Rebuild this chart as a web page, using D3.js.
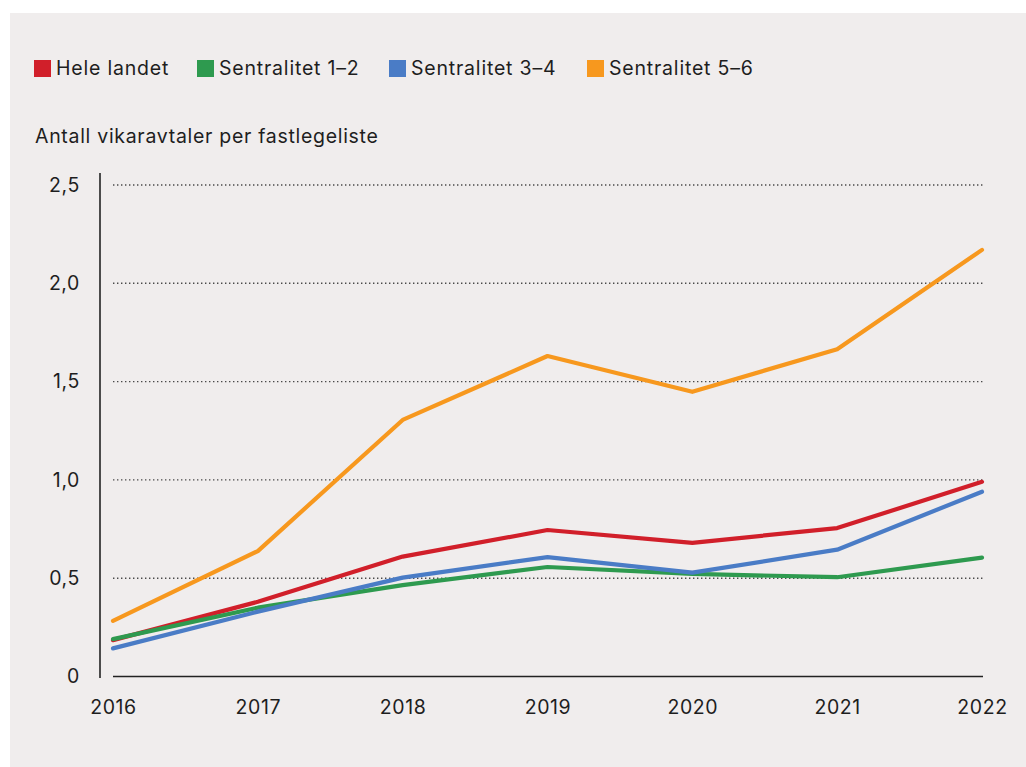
<!DOCTYPE html>
<html>
<head>
<meta charset="utf-8">
<script src="https://cdn.jsdelivr.net/npm/d3@7"></script>
<style>
  html, body { margin: 0; padding: 0; background: #ffffff; }
  svg { display: block; font-family: Inter, "Noto Sans", sans-serif; }
</style>
</head>
<body>
<div class="chart"></div>
<script>
var w = 1026,
  h = 767;

// values
var years = [2016, 2017, 2018, 2019, 2020, 2021, 2022];
var heleLandet = [0.185, 0.38, 0.61, 0.745, 0.68, 0.755, 0.99];
var sentralitet12 = [0.19, 0.35, 0.465, 0.557, 0.522, 0.505, 0.605];
var sentralitet34 = [0.143, 0.33, 0.503, 0.607, 0.528, 0.645, 0.94];
var sentralitet56 = [0.283, 0.638, 1.305, 1.63, 1.448, 1.665, 2.17];
var seriesNames = ['Hele landet', 'Sentralitet 1\u20132', 'Sentralitet 3\u20134', 'Sentralitet 5\u20136'];
var seriesColors = ['#d11f2a', '#2e9a4f', '#4a7cc6', '#f7981e'];
var yTicks = [0, 0.5, 1, 1.5, 2, 2.5];
var yTitle = 'Antall vikaravtaler per fastlegeliste';

var seriesValues = [heleLandet, sentralitet12, sentralitet34, sentralitet56];

var svg = d3.select('.chart')
  .append('svg')
  .attr('width', w)
  .attr('height', h);

// grey panel
svg.append('rect')
  .attr('x', 10)
  .attr('y', 13)
  .attr('width', w - 10)
  .attr('height', h - 13)
  .attr('fill', '#f0eded');

var x = d3.scalePoint()
  .domain(years)
  .range([113, 982]);

var y = d3.scaleLinear()
  .domain([0, 2.5])
  .range([676.5, 185]);

var fmt = function (d) {
  return d === 0 ? '0' : d3.format('.1f')(d).replace('.', ',');
};

// legend
var legendX = [34, 197, 389, 587];
var legend = svg.append('g').attr('class', 'legend');
seriesNames.forEach(function (name, i) {
  legend.append('rect')
    .attr('x', legendX[i])
    .attr('y', 60)
    .attr('width', 17)
    .attr('height', 17)
    .attr('fill', seriesColors[i]);
  legend.append('text')
    .attr('x', legendX[i] + 22)
    .attr('y', 75)
    .attr('font-size', '19.5px')
    .attr('letter-spacing', '0.8px')
    .attr('fill', '#1e1e1e')
    .text(name);
});

// axis title
svg.append('text')
  .attr('x', 35)
  .attr('y', 143)
  .attr('font-size', '19.5px')
  .attr('letter-spacing', '0.7px')
  .attr('fill', '#1e1e1e')
  .text(yTitle);

// gridlines
svg.append('g')
  .selectAll('line')
  .data(yTicks.filter(function (d) { return d > 0; }))
  .enter()
  .append('line')
  .attr('x1', 113)
  .attr('x2', 983)
  .attr('y1', function (d) { return y(d); })
  .attr('y2', function (d) { return y(d); })
  .attr('stroke', '#4a4a4a')
  .attr('stroke-width', 1.4)
  .attr('stroke-dasharray', '1.4 2.6');

// y axis
var yAxis = d3.axisLeft(y)
  .tickValues(yTicks)
  .tickFormat(fmt)
  .tickSize(0)
  .tickPadding(20);

var gy = svg.append('g')
  .attr('transform', 'translate(100,0)')
  .call(yAxis);
gy.select('.domain').remove();
gy.selectAll('text')
  .attr('font-size', '19.5px')
  .attr('letter-spacing', '0.6px')
  .attr('font-family', 'Inter, "Noto Sans", sans-serif')
  .attr('fill', '#1e1e1e');

svg.append('line')
  .attr('x1', 100)
  .attr('x2', 100)
  .attr('y1', 173)
  .attr('y2', 678)
  .attr('stroke', '#222')
  .attr('stroke-width', 1.6);

// x axis
var xAxis = d3.axisBottom(x)
  .tickSize(0)
  .tickPadding(24);

var gx = svg.append('g')
  .attr('transform', 'translate(0,' + y(0) + ')')
  .call(xAxis);
gx.select('.domain').remove();
gx.selectAll('text')
  .attr('font-size', '19.5px')
  .attr('letter-spacing', '0.6px')
  .attr('font-family', 'Inter, "Noto Sans", sans-serif')
  .attr('fill', '#1e1e1e');

svg.append('line')
  .attr('x1', 113)
  .attr('x2', 983)
  .attr('y1', y(0))
  .attr('y2', y(0))
  .attr('stroke', '#222')
  .attr('stroke-width', 1.6);

// lines
var line = d3.line()
  .x(function (d, i) { return x(years[i]); })
  .y(function (d) { return y(d); });

svg.append('g')
  .selectAll('path')
  .data(seriesValues)
  .enter()
  .append('path')
  .attr('d', line)
  .attr('fill', 'none')
  .attr('stroke', function (d, i) { return seriesColors[i]; })
  .attr('stroke-width', 4.2)
  .attr('stroke-linejoin', 'round')
  .attr('stroke-linecap', 'round');
</script>
</body>
</html>
